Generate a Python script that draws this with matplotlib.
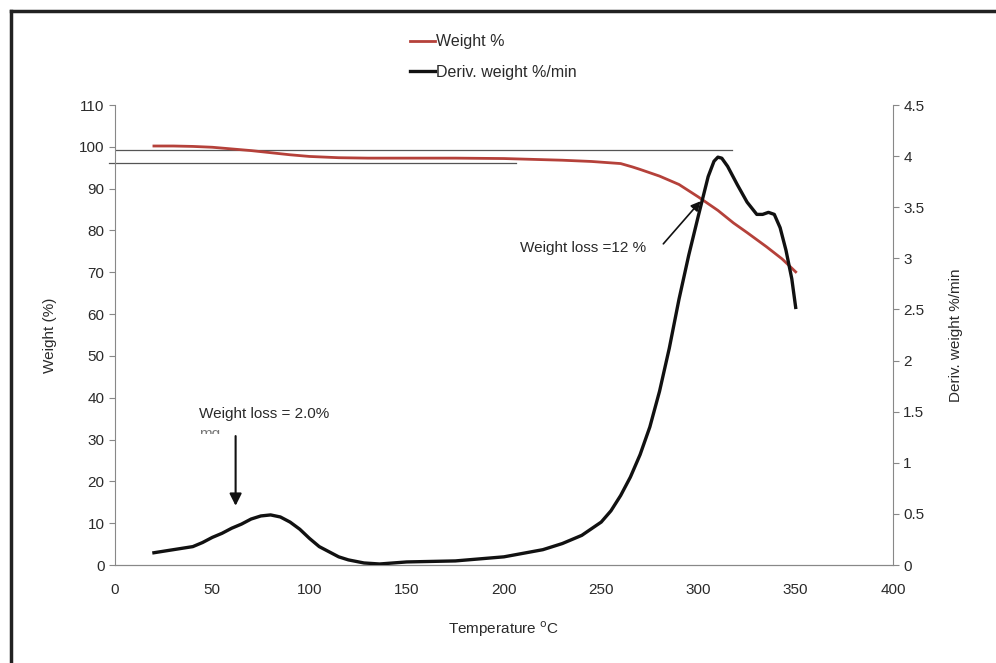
import matplotlib
matplotlib.use("Agg")
import matplotlib.pyplot as plt
from matplotlib.lines import Line2D
from matplotlib.patches import Rectangle

plt.rcParams['font.family'] = ['Liberation Sans', 'DejaVu Sans']

# TGA data: temperature (C), weight %, derivative weight %/min
temp_w = [20, 30, 40, 50, 60, 70, 80, 90, 100, 115, 130, 150, 175, 200, 215, 230,
          245, 260, 266, 270, 280, 290, 300, 310, 318, 325, 335, 343, 350]
weight = [100.2, 100.2, 100.1, 99.9, 99.5, 99.1, 98.6, 98.1, 97.7, 97.4, 97.3, 97.3,
          97.3, 97.2, 97.0, 96.8, 96.5, 96.0, 95.2, 94.6, 93.0, 91.0, 88.0, 84.8,
          81.8, 79.5, 76.1, 73.2, 70.1]

temp_d = [20, 30, 40, 45, 50, 55, 60, 65, 70, 75, 80, 85, 90, 95, 100, 105, 110,
          115, 120, 128, 136, 150, 175, 200, 220, 230, 240, 250, 255, 260, 265, 270,
          275, 280, 285, 290, 295, 300, 305, 308, 310, 312, 315, 320, 325, 330, 333,
          336, 339, 342, 345, 348, 350]
deriv = [0.12, 0.15, 0.18, 0.22, 0.27, 0.31, 0.36, 0.40, 0.45, 0.48, 0.49, 0.47,
         0.42, 0.35, 0.26, 0.18, 0.13, 0.08, 0.05, 0.02, 0.01, 0.03, 0.04, 0.08,
         0.15, 0.21, 0.29, 0.42, 0.53, 0.68, 0.86, 1.08, 1.35, 1.70, 2.12, 2.60,
         3.03, 3.42, 3.80, 3.95, 3.99, 3.98, 3.90, 3.72, 3.55, 3.43, 3.43, 3.45,
         3.43, 3.30, 3.08, 2.80, 2.52]

# baseline construction lines (weight %, x-extent)
base_hi = (99.3, 0, 317)
base_lo = (96.1, -3, 206)

fig = plt.figure(figsize=(9.96, 6.63), dpi=100)
ax = fig.add_axes([0.1155, 0.1478, 0.781, 0.6938])
ax2 = ax.twinx()

tc = "#2a2a2a"
fs = 11

l1, = ax.plot(temp_w, weight, color="#b5413a", lw=2.0, zorder=3,
              solid_joinstyle="round")
l2, = ax2.plot(temp_d, deriv, color="#111111", lw=2.4, zorder=3,
               solid_joinstyle="round")

ax.plot([base_hi[1], base_hi[2]], [base_hi[0]] * 2, color="#555555", lw=0.9, zorder=2)
ax.plot([base_lo[1], base_lo[2]], [base_lo[0]] * 2, color="#555555", lw=0.9,
        zorder=2, clip_on=False)

ax.set_xlim(0, 400)
ax.set_ylim(0, 110)
ax2.set_ylim(0, 4.5)
ax.set_xticks(range(0, 401, 50))
ax.set_yticks(range(0, 111, 10))
ax2.set_yticks([0, 0.5, 1, 1.5, 2, 2.5, 3, 3.5, 4, 4.5])
ax2.set_yticklabels(["0", "0.5", "1", "1.5", "2", "2.5", "3", "3.5", "4", "4.5"])

for a in (ax, ax2):
    a.spines["top"].set_visible(False)
    for s in a.spines.values():
        s.set_color("#888888")
        s.set_linewidth(0.8)
    a.tick_params(colors="#888888", labelcolor=tc, labelsize=fs, length=4, width=0.8)
ax.tick_params(axis="x", length=0, pad=13)
ax2.spines["left"].set_visible(False)
ax.spines["right"].set_visible(False)

ax.set_xlabel("Temperature $^{\\mathrm{o}}$C", fontsize=fs, color=tc, labelpad=16)
ax.set_ylabel("Weight (%)", fontsize=fs, color=tc, labelpad=16)
ax2.set_ylabel("Deriv. weight %/min", fontsize=fs, color=tc, labelpad=18)

# annotations
ax.annotate("", xy=(62, 13.5), xytext=(62, 31.5),
            arrowprops=dict(arrowstyle="-|>", color="#111111", lw=1.5, mutation_scale=18))
ax.text(43, 36, "Weight loss = 2.0%", fontsize=fs, color=tc, va="center")
ax.text(43, 31.3, "mg", fontsize=fs, color="#777777", va="center")
ax.add_patch(Rectangle((40, 28.6), 20, 2.7, facecolor="white", edgecolor="none", zorder=4))

ax.text(208, 75.8, "Weight loss =12 %", fontsize=fs, color=tc, va="center")
ax.annotate("", xy=(302, 87.5), xytext=(281, 76.3),
            arrowprops=dict(arrowstyle="-|>", color="#111111", lw=1.2, mutation_scale=14))

fig.legend([l1, l2], ["Weight %", "Deriv. weight %/min"], loc="center",
           bbox_to_anchor=(0.495, 0.914), frameon=False, fontsize=11.5,
           handlelength=1.6, handletextpad=0.05, labelspacing=0.95, labelcolor=tc)

# page frame
fig.add_artist(Line2D([0.011, 1.0], [0.983, 0.983], color="#222222", lw=2.5))
fig.add_artist(Line2D([0.011, 0.011], [0.0, 0.983], color="#222222", lw=2.5))

fig.savefig("out.png", dpi=100)
